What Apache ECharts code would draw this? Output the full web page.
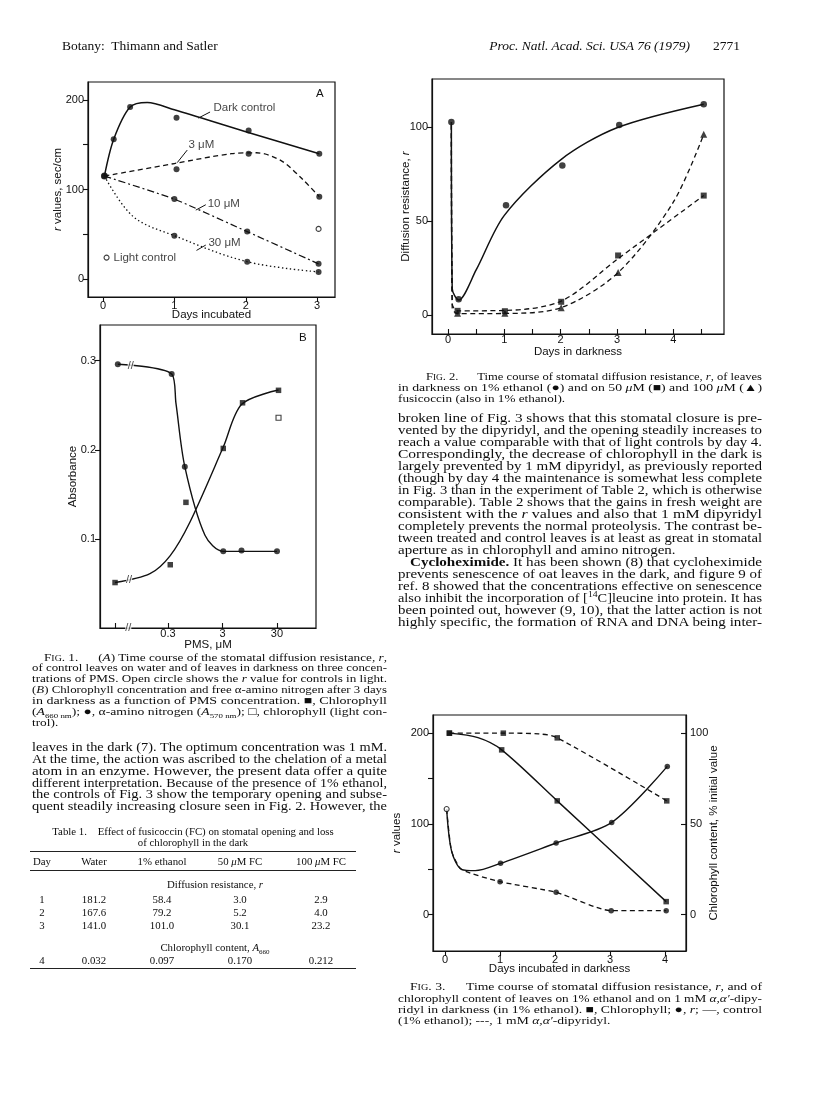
<!DOCTYPE html>
<html><head><meta charset="utf-8">
<script src="https://cdn.jsdelivr.net/npm/echarts@6/dist/echarts.min.js"></script>
<style>
body{margin:0;background:#fff}
#page{position:relative;width:816px;height:1093px;overflow:hidden;background:#fff}
#chart{position:absolute;left:0;top:0;width:816px;height:1093px}
.t{position:absolute;font-family:'Liberation Serif','DejaVu Serif',serif;color:#0d0d0d;white-space:nowrap;overflow:visible}
.sc{font-variant:small-caps}
</style></head><body>
<div id="page"><div id="chart"></div></div>
<script>
// ---------------- DATA ----------------
// Fig. 1A  r values (sec/cm) vs days incubated
const f1aDarkPts   = [[0.02,115],[0.15,156],[0.38,192],[1.03,180],[2.04,166],[3.03,140]];
const f1aDarkCurve = [[0.02,115],[0.15,156],[0.38,192],[0.62,197],[1.0,189],[2.0,164.5],[3.03,140]];
const f1a3Pts      = [[1.03,122.5],[2.04,140],[3.03,92]];
const f1a3Curve    = [[0.02,115],[1.0,129],[1.8,140],[2.15,141],[2.5,132],[2.8,111],[3.03,92]];
const f1a10Pts     = [[1.0,89.4],[2.02,53],[3.02,17]];
const f1a10Curve   = [[0.02,115],[1.0,89.4],[2.02,53],[3.02,17]];
const f1a30Pts     = [[1.0,48.4],[2.02,19.4],[3.02,8]];
const f1a30Curve   = [[0.02,115],[0.42,70],[1.0,48.4],[2.02,19.4],[3.02,8]];
const f1aLightPts  = [[3.02,56]];
const f1aLabels    = [['Dark control',1.54,191],['3 μM',1.19,150],['10 μM',1.46,84.5],['30 μM',1.47,41],['Light control',0.14,24]];
const f1aLeaders   = [[[1.335,179.7],[1.5,186.5]],[[1.04,130],[1.18,144]],[[1.30,77],[1.44,83]],[[1.31,32],[1.44,38]]];
const f1aLegendPt  = [[0.05,24]];

// Fig. 1B  absorbance vs PMS concentration (μM, log scale; first value = control)
const f1bAminoConc = [0.036,0.35,0.61,3.1,6.7,30];
const f1bAminoAbs  = [0.296,0.285,0.181,0.086,0.087,0.086];
const f1bChlConc   = [0.032,0.33,0.64,3.1,7.0,32];
const f1bChlAbs    = [0.051,0.071,0.141,0.2015,0.2527,0.2667];
const f1bLightConc = [32];
const f1bLightAbs  = [0.236];
const f1bAminoCurve = [[0.036,0.296],[0.35,0.285],[0.42,0.252],[0.61,0.181],[1.43,0.104],[3.1,0.086],[30,0.086]];
const f1bChlCurve   = [[0.032,0.051],[0.14,0.061],[0.327,0.081],[0.76,0.119],[3.1,0.203],[6.75,0.251],[32,0.267]];
const f1bBreaks     = [[0.062,0.2935],[0.058,0.0535],[0.056,0.0]];
const f1bTicks      = [0.032,0.3,3,30];
const f1bTickLabels = [0.3,3,30];

// Fig. 2  diffusion resistance r vs days in darkness
const f2EthPts    = [[0.06,102.6],[0.19,8.5],[1.03,58.3],[2.03,79.5],[3.04,101],[4.54,112]];
const f2EthCurve  = [[0.06,102.6],[0.075,14],[0.19,8],[0.5,24],[1.0,53],[2.0,82.5],[3.0,99.5],[4.54,112]];
const f2Fc50Pts   = [[0.17,2.3],[1.01,2.1],[2.01,7.1],[3.02,31.7],[4.54,63.5]];
const f2Fc50Curve = [[0.06,101],[0.075,6],[0.17,2.3],[1.01,2.5],[2.01,7.5],[3.02,30],[4.54,63.5]];
const f2Fc100Pts  = [[0.17,1.0],[1.01,1.0],[2.01,3.9],[3.02,22.6],[4.54,96]];
const f2Fc100Curve= [[0.06,101],[0.075,4],[0.17,0.8],[1.01,0.9],[2.01,4],[3.02,22.6],[4.0,60],[4.54,96]];

// Fig. 3  r values (left) and chlorophyll % initial (right) vs days
const f3ChlCtrlPts   = [[0.08,100],[1.03,90.8],[2.04,62.7],[4.02,7.2]];
const f3ChlCtrlCurve = [[0.08,100],[0.6,97.5],[1.03,90.8],[2.04,62.7],[4.02,7.2]];
const f3ChlDipPts    = [[0.08,100],[1.06,100],[2.04,97.4],[4.03,62.7]];
const f3ChlDipCurve  = [[0.08,100],[1.06,100],[1.7,99.6],[2.04,97.4],[4.03,62.7]];
const f3rStart       = [[0.03,116.4]];
const f3rCtrlPts     = [[1.01,56.6],[2.02,79],[3.03,101.7],[4.04,163.4]];
const f3rCtrlCurve   = [[0.03,116.4],[0.12,70],[0.3,50],[0.55,48.5],[1.01,56.6],[2.02,79],[3.03,101.7],[4.04,163.4]];
const f3rDipPts      = [[1.0,36.4],[2.02,24.6],[3.02,4.4],[4.02,4.4]];
const f3rDipCurve    = [[0.03,116.4],[0.12,70],[0.3,50],[1.0,36.4],[2.02,24.6],[3.02,4.4],[4.02,4.4]];

// Table 1
const t1Days    = ['1','2','3'];
const t1Water   = ['181.2','167.6','141.0'];
const t1Ethanol = ['58.4','79.2','101.0'];
const t1Fc50    = ['3.0','5.2','30.1'];
const t1Fc100   = ['2.9','4.0','23.2'];
const t1ChlDay  = '4';
const t1Chl     = ['0.032','0.097','0.170','0.212'];

// ---------------- CHART ----------------
const K = '#111';
const SANS = "'Liberation Sans', Arial, sans-serif";
const LFS = 11;
const lg = v => Math.log10(v);
const toLog = arr => arr.map(p => [lg(p[0]), p[1]]);
const zip = (a, b) => a.map((v, i) => [v, b[i]]);

function curve(xi, yi, data, type, width, smooth) {
  return {type:'line', xAxisIndex:xi, yAxisIndex:yi, data, symbol:'none', showSymbol:false,
    smooth: smooth === undefined ? 0.3 : smooth, silent:true, z:2,
    lineStyle:{color:K, width: width || 1.4, type: type || 'solid', cap:'butt'}};
}
function pts(xi, yi, data, symbol, size, filled) {
  return {type:'scatter', xAxisIndex:xi, yAxisIndex:yi, data, symbol, symbolSize:size, silent:true, z:3,
    itemStyle:{color: filled ? K : '#fff', borderColor:K, borderWidth: filled ? 0 : 1.1}};
}
const DASH = [5,3.5], DASHDOT = [7,3,2,3], DOT = [1.4,2.6];

function xAx(grid, min, max, ticks, labels, name, gap, inside, margin, fmt) {
  return {type:'value', gridIndex:grid, min, max, name, nameLocation:'middle', nameGap:gap, nameMoveOverlap:false,
    nameTextStyle:{fontFamily:SANS, fontSize:11.5, color:K},
    axisLine:{show:true, onZero:false, lineStyle:{color:K, width:1.2}},
    axisTick:{show:true, inside:!!inside, length:5, customValues:ticks, lineStyle:{color:K, width:1.1}},
    axisLabel:{show:true, customValues:labels, fontFamily:SANS, fontSize:LFS, color:K, margin:margin, formatter: fmt || (v => String(v))},
    splitLine:{show:false}};
}
function yAx(grid, min, max, ticks, labels, name, gap, inside, pos, fmt, rich) {
  return {type:'value', gridIndex:grid, min, max, position: pos || 'left', name, nameLocation:'middle', nameGap:gap, nameMoveOverlap:false,
    nameTextStyle:{fontFamily:SANS, fontSize:11.5, color:K, rich: rich},
    axisLine:{show:true, onZero:false, lineStyle:{color:K, width:1.2}},
    axisTick:{show:true, inside:!!inside, length:5, customValues:ticks, lineStyle:{color:K, width:1.1}},
    axisLabel:{show:true, customValues:labels, fontFamily:SANS, fontSize:LFS, color:K, margin:4, formatter: fmt || (v => String(v))},
    splitLine:{show:false}};
}
const ital = {i:{fontStyle:'italic', fontFamily:SANS, fontSize:11.5, color:K}};

const grids = [
  {left:88, top:82, width:247, height:215},
  {left:100, top:325, width:216, height:303},
  {left:432, top:79, width:292, height:255},
  {left:433, top:715, width:253, height:236}
].map(g => Object.assign(g, {show:true, borderColor:K, borderWidth:1.2, backgroundColor:'transparent', containLabel:false}));

const xAxis = [
  xAx(0, -0.21, 3.25, [0,1,2,3], [0,1,2,3], 'Days incubated', 12, false, 3),
  xAx(1, -1.771, 2.193, f1bTicks.map(lg), f1bTickLabels.map(lg), 'PMS, μM', 11, true, 0, v => String(Math.round(Math.pow(10, v) * 10) / 10)),
  xAx(2, -0.284, 4.90, [0,0.5,1,1.5,2,2.5,3,3.5,4,4.5], [0,1,2,3,4], 'Days in darkness', 12, true, 0),
  xAx(3, -0.218, 4.38, [0,1,2,3,4], [0,1,2,3,4], 'Days incubated in darkness', 12, false, 3)
];
const yAxis = [
  yAx(0, -20, 220, [0,50,100,150,200], [0,100,200], '{i|r} values, sec/cm', 24, false, 'left', null, ital),
  yAx(1, 0, 0.34, [0.1,0.2,0.3], [0.1,0.2,0.3], 'Absorbance', 21, false, 'left', v => v.toFixed(1)),
  yAx(2, -10, 125.4, [0,50,100], [0,50,100], 'Diffusion resistance, {i|r}', 20, false, 'left', null, ital),
  yAx(3, -40, 220, [0,50,100,150,200], [0,100,200], '{i|r} values', 30, false, 'left', null, ital),
  yAx(3, -20, 110, [0,50,100], [0,50,100], 'Chlorophyll content, % initial value', 22, true, 'right')
];

const textLabels = (xi, yi, list) => ({type:'scatter', xAxisIndex:xi, yAxisIndex:yi, symbolSize:1, silent:true,
  itemStyle:{color:'rgba(0,0,0,0)'},
  data: list.map(l => ({value:[l[1], l[2]], name:l[0]})),
  label:{show:true, position:'right', distance:0, formatter: p => p.name, fontFamily:SANS, fontSize:11.5, color:K}});

const series = [
  // Fig 1A
  curve(0,0,f1aDarkCurve,'solid',1.5,0.3),
  curve(0,0,f1a3Curve,DASH,1.3,0.3),
  curve(0,0,f1a10Curve,DASHDOT,1.2,0.1),
  curve(0,0,f1a30Curve,DOT,1.3,0.35),
  pts(0,0,[[0.02,115]],'circle',7,true),
  pts(0,0,f1aDarkPts,'circle',6,true),
  pts(0,0,f1a3Pts,'circle',6,true),
  pts(0,0,f1a10Pts,'circle',6,true),
  pts(0,0,f1a30Pts,'circle',6,true),
  pts(0,0,f1aLightPts,'circle',5,false),
  pts(0,0,f1aLegendPt,'circle',5,false),
  textLabels(0,0,f1aLabels),
  {type:'lines', coordinateSystem:'cartesian2d', xAxisIndex:0, yAxisIndex:0, silent:true,
    data: f1aLeaders.map(c => ({coords:c})), lineStyle:{color:K, width:1, opacity:1}},
  // Fig 1B
  curve(1,1,toLog(f1bAminoCurve),'solid',1.4,0.3),
  curve(1,1,toLog(f1bChlCurve),'solid',1.4,0.3),
  pts(1,1,zip(f1bAminoConc.map(lg), f1bAminoAbs),'circle',6,true),
  pts(1,1,zip(f1bChlConc.map(lg), f1bChlAbs),'rect',5.5,true),
  pts(1,1,zip(f1bLightConc.map(lg), f1bLightAbs),'rect',5,false),
  {type:'scatter', xAxisIndex:1, yAxisIndex:1, symbolSize:1, silent:true, itemStyle:{color:'rgba(0,0,0,0)'},
    data: f1bBreaks.map(p => [lg(p[0]), p[1]]),
    label:{show:true, position:'inside', formatter:'//', fontFamily:SANS, fontSize:11, color:K, backgroundColor:'#fff', padding:[0,0]}},
  // Fig 2
  curve(2,2,f2EthCurve,'solid',1.5,0.3),
  curve(2,2,f2Fc50Curve,DASH,1.3,0.3),
  curve(2,2,f2Fc100Curve,DASH,1.3,0.3),
  pts(2,2,f2EthPts,'circle',6.5,true),
  pts(2,2,f2Fc50Pts,'rect',6,true),
  pts(2,2,f2Fc100Pts,'triangle',7,true),
  // Fig 3
  curve(3,4,f3ChlCtrlCurve,'solid',1.4,0.3),
  curve(3,4,f3ChlDipCurve,DASH,1.3,0.3),
  curve(3,3,f3rCtrlCurve,'solid',1.4,0.3),
  curve(3,3,f3rDipCurve,DASH,1.3,0.2),
  pts(3,4,f3ChlCtrlPts,'rect',5.5,true),
  pts(3,4,f3ChlDipPts,'rect',5.5,true),
  pts(3,3,f3rCtrlPts,'circle',5.5,true),
  pts(3,3,f3rDipPts,'circle',5.5,true),
  pts(3,3,f3rStart,'circle',5,false)
];

const chart = echarts.init(document.getElementById('chart'), null, {renderer:'canvas'});
chart.setOption({
  animation:false, backgroundColor:'transparent',
  grid: grids, xAxis, yAxis, series,
  graphic:[
    {type:'text', left:316, top:88, style:{text:'A', font:'11.5px ' + SANS, fill:K}},
    {type:'text', left:299, top:332, style:{text:'B', font:'11.5px ' + SANS, fill:K}}
  ]
});

// ---------------- TEXT ----------------
const page = document.getElementById('page');
function addLine(html, x, cy, w, fs, lh, mode) {
  const d = document.createElement('div');
  d.className = 't';
  d.style.left = x + 'px';
  d.style.top = (cy - lh / 2) + 'px';
  d.style.fontSize = fs + 'px';
  d.style.lineHeight = lh + 'px';
  d.style.height = lh + 'px';
  d.innerHTML = html;
  page.appendChild(d);
  if (mode === 'c' || mode === 'r') {
    d.style.width = w + 'px';
    d.style.textAlign = mode === 'c' ? 'center' : 'right';
  }
  return d;
}
function block(lines, x, y0, w, fs, lh) {
  const els = [], scales = [];
  lines.forEach((l, i) => {
    const indent = l.indent || 0;
    const d = addLine(l.t, x + indent, y0 + i * lh, 0, fs, lh, 'l');
    d.style.transformOrigin = '0 50%';
    els.push([d, l, w - indent]);
    if (!l.end) scales.push((w - indent) / d.getBoundingClientRect().width);
  });
  const avg = scales.reduce((a, b) => a + b, 0) / scales.length;
  els.forEach(([d, l, ww]) => {
    const s = l.end ? Math.min(avg, ww / d.getBoundingClientRect().width) : ww / d.getBoundingClientRect().width;
    d.style.transform = 'scaleX(' + s + ')';
  });
}

// header
addLine('Botany:&nbsp; Thimann and Satler', 62, 46, 0, 13.5, 16, 'l');
addLine('<i>Proc. Natl. Acad. Sci. USA 76 (1979)</i>', 450, 46, 240, 13.5, 16, 'r');
addLine('2771', 700, 46, 40, 13.5, 16, 'r');

const LX = 32, LW = 355, RX = 398, RW = 364;
const FIG = n => '<span class="sc">Fig</span>. ' + n + '.&emsp;&ensp;';
// Fig. 1 caption
block([
  {t: FIG(1) + '(<i>A</i>) Time course of the stomatal diffusion resistance, <i>r</i>,', indent:12},
  {t:'of control leaves on water and of leaves in darkness on three concen-'},
  {t:'trations of PMS. Open circle shows the <i>r</i> value for controls in light.'},
  {t:'(<i>B</i>) Chlorophyll concentration and free α-amino nitrogen after 3 days'},
  {t:'in darkness as a function of PMS concentration. ■, Chlorophyll'},
  {t:'(<i>A</i><sub style="font-size:7px">660 nm</sub>); ●, α-amino nitrogen (<i>A</i><sub style="font-size:7px">570 nm</sub>); □, chlorophyll (light con-'},
  {t:'trol).', end:true}
], LX, 657, LW, 10.8, 10.9);

// left body
block([
  {t:'leaves in the dark (7). The optimum concentration was 1 mM.'},
  {t:'At the time, the action was ascribed to the chelation of a metal'},
  {t:'atom in an enzyme. However, the present data offer a quite'},
  {t:'different interpretation. Because of the presence of 1% ethanol,'},
  {t:'the controls of Fig. 3 show the temporary opening and subse-'},
  {t:'quent steadily increasing closure seen in Fig. 2. However, the'}
], LX, 748, LW, 11.8, 11.8);

// Table 1
addLine('Table 1.&nbsp;&nbsp;&nbsp; Effect of fusicoccin (FC) on stomatal opening and loss', 28, 831, 330, 10.8, 12, 'c');
addLine('of chlorophyll in the dark', 28, 842, 330, 10.8, 12, 'c');
const rule = (y, w) => { const d = document.createElement('div');
  d.style.cssText = 'position:absolute;left:30px;width:326px;top:' + y + 'px;height:0;border-top:' + w + 'px solid #222';
  page.appendChild(d); };
rule(851, 1.4); rule(870, 0.9); rule(968, 1.4);
const colC = [42, 94, 162, 240, 321];
const cell = (txt, c, cy) => addLine(txt, colC[c] - 40, cy, 80, 10.8, 12, 'c');
['Day','Water','1% ethanol','50 <i>μ</i>M FC','100 <i>μ</i>M FC'].forEach((h, i) => cell(h, i, 861));
addLine('Diffusion resistance, <i>r</i>', 115, 884, 200, 10.8, 12, 'c');
t1Days.forEach((d, r) => {
  const cy = 899 + r * 13;
  cell(d, 0, cy); cell(t1Water[r], 1, cy); cell(t1Ethanol[r], 2, cy); cell(t1Fc50[r], 3, cy); cell(t1Fc100[r], 4, cy);
});
addLine('Chlorophyll content, <i>A</i><sub style="font-size:7px">660</sub>', 115, 947, 200, 10.8, 12, 'c');
cell(t1ChlDay, 0, 960);
t1Chl.forEach((v, i) => cell(v, i + 1, 960));

// Fig. 2 caption
block([
  {t: FIG(2) + 'Time course of stomatal diffusion resistance, <i>r</i>, of leaves', indent:28},
  {t:'in darkness on 1% ethanol (●) and on 50 <i>μ</i>M (■) and 100 <i>μ</i>M (▲)'},
  {t:'fusicoccin (also in 1% ethanol).', end:true}
], RX, 376, RW, 10.8, 11);

// right body
block([
  {t:'broken line of Fig. 3 shows that this stomatal closure is pre-'},
  {t:'vented by the dipyridyl, and the opening steadily increases to'},
  {t:'reach a value comparable with that of light controls by day 4.'},
  {t:'Correspondingly, the decrease of chlorophyll in the dark is'},
  {t:'largely prevented by 1 mM dipyridyl, as previously reported'},
  {t:'(though by day 4 the maintenance is somewhat less complete'},
  {t:'in Fig. 3 than in the experiment of Table 2, which is otherwise'},
  {t:'comparable). Table 2 shows that the gains in fresh weight are'},
  {t:'consistent with the <i>r</i> values and also that 1 mM dipyridyl'},
  {t:'completely prevents the normal proteolysis. The contrast be-'},
  {t:'tween treated and control leaves is at least as great in stomatal'},
  {t:'aperture as in chlorophyll and amino nitrogen.', end:true},
  {t:'<b>Cycloheximide.</b> It has been shown (8) that cycloheximide', indent:12},
  {t:'prevents senescence of oat leaves in the dark, and figure 9 of'},
  {t:'ref. 8 showed that the concentrations effective on senescence'},
  {t:'also inhibit the incorporation of [<sup style="font-size:8px;line-height:0">14</sup>C]leucine into protein. It has'},
  {t:'been pointed out, however (9, 10), that the latter action is not'},
  {t:'highly specific, the formation of RNA and DNA being inter-'}
], RX, 418, RW, 11.8, 12);

// Fig. 3 caption
block([
  {t: FIG(3) + 'Time course of stomatal diffusion resistance, <i>r</i>, and of', indent:12},
  {t:'chlorophyll content of leaves on 1% ethanol and on 1 mM <i>α,α′</i>-dipy-'},
  {t:'ridyl in darkness (in 1% ethanol). ■, Chlorophyll; ●, <i>r</i>; —, control'},
  {t:'(1% ethanol); ---, 1 mM <i>α,α′</i>-dipyridyl.', end:true}
], RX, 987, RW, 10.8, 11.3);
</script>
</body></html>
